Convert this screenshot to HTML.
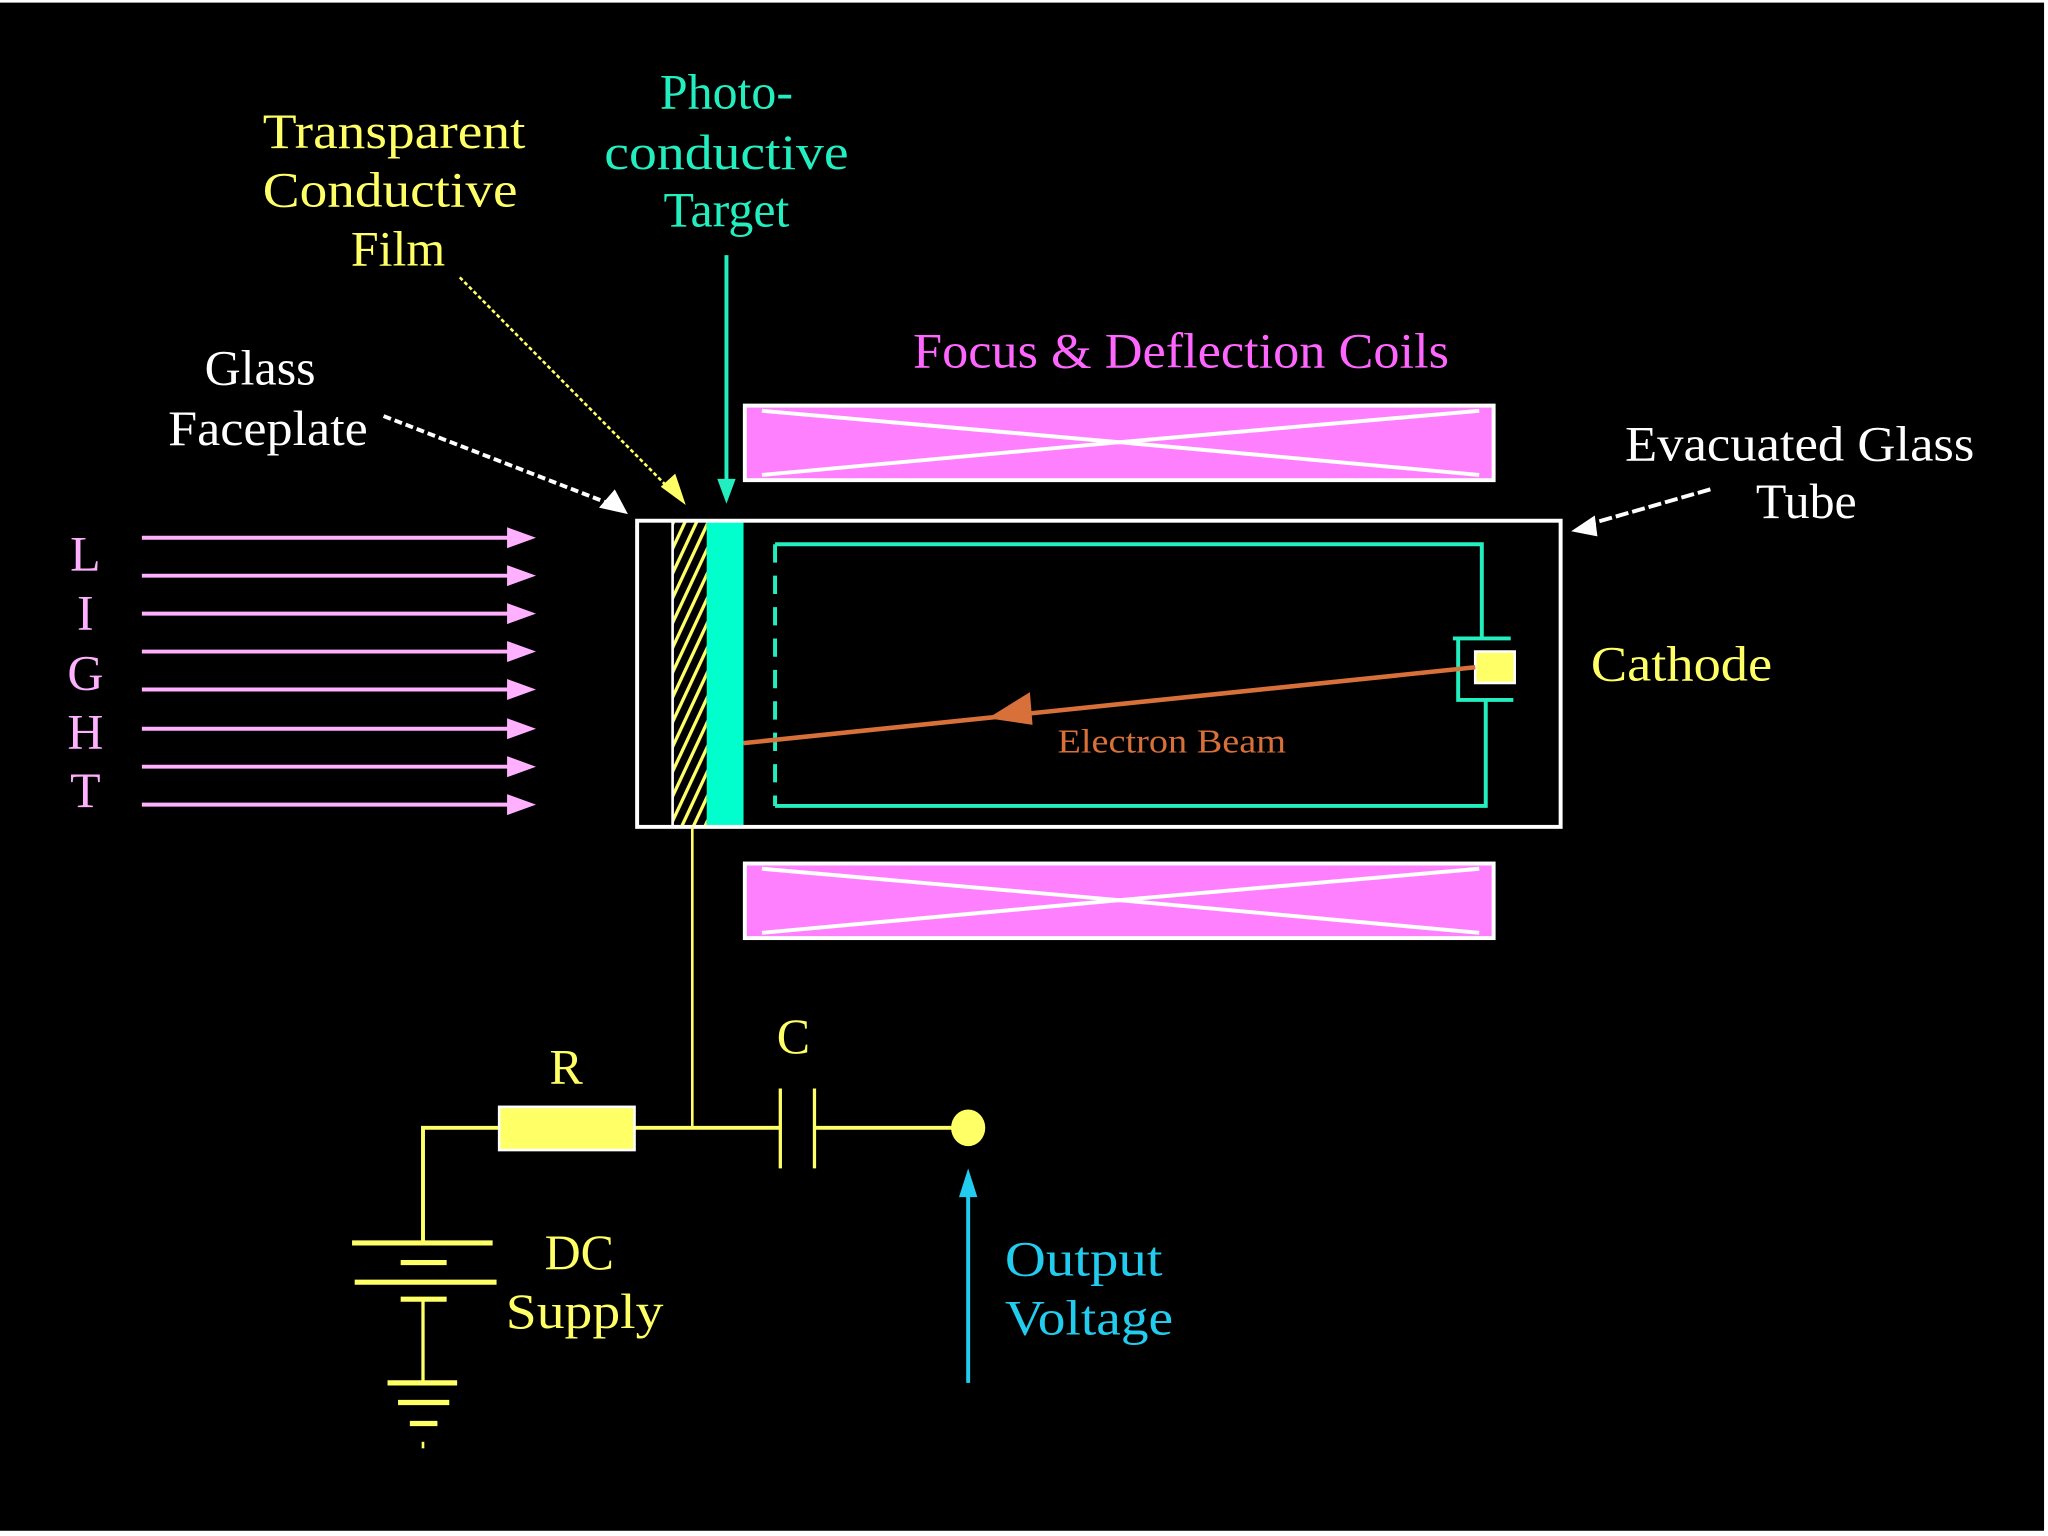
<!DOCTYPE html>
<html><head><meta charset="utf-8"><style>
html,body{margin:0;padding:0;background:#000;}
svg{display:block;}
text{font-family:"Liberation Serif",serif;}
</style></head><body>
<svg width="2048" height="1536" viewBox="0 0 1559 1174" preserveAspectRatio="none" xmlns="http://www.w3.org/2000/svg">
<defs>
<pattern id="hatch" width="8" height="8" patternUnits="userSpaceOnUse" patternTransform="rotate(25)">
<rect width="8" height="8" fill="#000"/>
<rect width="2.5" height="8" fill="#ffff66"/>
</pattern>
</defs>
<rect x="0" y="0" width="1559" height="1174" fill="#fff"/>
<rect x="0" y="2" width="1556" height="1168" fill="#000"/>

<!-- Labels -->
<g font-size="38" text-anchor="middle">
<text x="300" y="113" fill="#ffff66" textLength="200" lengthAdjust="spacingAndGlyphs">Transparent</text>
<text x="297" y="158" fill="#ffff66" textLength="194" lengthAdjust="spacingAndGlyphs">Conductive</text>
<text x="303" y="203" fill="#ffff66">Film</text>
<text x="553" y="83" fill="#22eec0">Photo-</text>
<text x="553" y="129" fill="#22eec0" textLength="186" lengthAdjust="spacingAndGlyphs">conductive</text>
<text x="553" y="173" fill="#22eec0">Target</text>
<text x="198" y="294" fill="#fff">Glass</text>
<text x="204" y="340" fill="#fff" textLength="152" lengthAdjust="spacingAndGlyphs">Faceplate</text>
<text x="899" y="281" fill="#ff66ff" textLength="408" lengthAdjust="spacingAndGlyphs">Focus &amp; Deflection Coils</text>
<text x="1370" y="352" fill="#fff" textLength="266" lengthAdjust="spacingAndGlyphs">Evacuated Glass</text>
<text x="1375" y="396" fill="#fff">Tube</text>
<text x="1280" y="520" fill="#ffff66" textLength="138" lengthAdjust="spacingAndGlyphs">Cathode</text>
<text x="431" y="828" fill="#ffff66">R</text>
<text x="604" y="805" fill="#ffff66">C</text>
<text x="441" y="970" fill="#ffff66">DC</text>
<text x="445" y="1015" fill="#ffff66" textLength="120" lengthAdjust="spacingAndGlyphs">Supply</text>
<text x="825" y="975" fill="#22ccee" textLength="120" lengthAdjust="spacingAndGlyphs">Output</text>
<text x="829" y="1020" fill="#22ccee" textLength="128" lengthAdjust="spacingAndGlyphs">Voltage</text>
<g fill="#ffb0ff">
<text x="65" y="436">L</text>
<text x="65" y="481">I</text>
<text x="65" y="527">G</text>
<text x="65" y="572">H</text>
<text x="65" y="617">T</text>
</g>
</g>
<text x="892" y="575" font-size="26" fill="#d8703a" text-anchor="middle" textLength="174" lengthAdjust="spacingAndGlyphs">Electron Beam</text>

<!-- Light arrows -->
<g stroke="#ffb0ff" stroke-width="3" fill="#ffb0ff">
<line x1="108" y1="411" x2="395" y2="411"/><polygon points="386,403 408,411 386,419" stroke="none"/>
<line x1="108" y1="440" x2="395" y2="440"/><polygon points="386,432 408,440 386,448" stroke="none"/>
<line x1="108" y1="469" x2="395" y2="469"/><polygon points="386,461 408,469 386,477" stroke="none"/>
<line x1="108" y1="498" x2="395" y2="498"/><polygon points="386,490 408,498 386,506" stroke="none"/>
<line x1="108" y1="527" x2="395" y2="527"/><polygon points="386,519 408,527 386,535" stroke="none"/>
<line x1="108" y1="557" x2="395" y2="557"/><polygon points="386,549 408,557 386,565" stroke="none"/>
<line x1="108" y1="586" x2="395" y2="586"/><polygon points="386,578 408,586 386,594" stroke="none"/>
<line x1="108" y1="615" x2="395" y2="615"/><polygon points="386,607 408,615 386,623" stroke="none"/>
</g>

<!-- Pointer lines -->
<line x1="350" y1="212" x2="512" y2="376" stroke="#ffff66" stroke-width="2" stroke-dasharray="3,2"/>
<polygon points="503,372 522,386 514,362" fill="#ffff66"/>
<line x1="292" y1="318" x2="464" y2="385" stroke="#fff" stroke-width="3" stroke-dasharray="6,3"/>
<polygon points="456,388 478,393 468,374" fill="#fff"/>
<line x1="553" y1="195" x2="553" y2="370" stroke="#22eec0" stroke-width="3"/>
<polygon points="546,366 553,385 560,366" fill="#22eec0"/>
<line x1="1302" y1="374" x2="1212" y2="400" stroke="#fff" stroke-width="3" stroke-dasharray="10,3"/>
<polygon points="1196,406 1214,394 1216,410" fill="#fff"/>

<!-- Coils -->
<g>
<rect x="567" y="310" width="570" height="57" fill="#ff80ff" stroke="#fff" stroke-width="3"/>
<polyline points="580,314 852,338 1126,314" fill="none" stroke="#fff" stroke-width="3"/>
<polyline points="580,363 852,338 1126,363" fill="none" stroke="#fff" stroke-width="3"/>
<rect x="567" y="660" width="570" height="57" fill="#ff80ff" stroke="#fff" stroke-width="3"/>
<polyline points="580,664 852,688 1126,664" fill="none" stroke="#fff" stroke-width="3"/>
<polyline points="580,713 852,688 1126,713" fill="none" stroke="#fff" stroke-width="3"/>
</g>

<!-- Tube -->
<rect x="512" y="398" width="26" height="234" fill="url(#hatch)"/>
<rect x="538" y="398" width="28" height="234" fill="#00ffcc"/>
<rect x="485" y="398" width="703" height="234" fill="none" stroke="#fff" stroke-width="3"/>
<line x1="512" y1="398" x2="512" y2="632" stroke="#fff" stroke-width="2"/>
<g stroke="#22eec0" stroke-width="3" fill="none">
<polyline points="590,416 1128,416 1128,488"/>
<polyline points="1106,488 1150,488"/>
<polyline points="1110,488 1110,535 1152,535"/>
<polyline points="1131,535 1131,616 590,616"/>
<line x1="590" y1="416" x2="590" y2="616" stroke-dasharray="14,10"/>
</g>
<rect x="1123" y="498" width="30" height="24" fill="#ffff66" stroke="#fff" stroke-width="2"/>
<line x1="566" y1="568" x2="1123" y2="510" stroke="#d8703a" stroke-width="3.5"/>
<polygon points="752,549 784,529 786,554" fill="#d8703a"/>

<!-- Circuit -->
<g stroke="#ffff66" fill="none">
<line x1="527" y1="632" x2="527" y2="862" stroke-width="2"/>
<polyline points="322,950 322,862 380,862" stroke-width="3"/>
<line x1="483" y1="862" x2="594" y2="862" stroke-width="3"/>
<line x1="620" y1="862" x2="735" y2="862" stroke-width="3"/>
<line x1="594" y1="832" x2="594" y2="893" stroke-width="2.5"/>
<line x1="620" y1="832" x2="620" y2="893" stroke-width="2.5"/>
<line x1="268" y1="950" x2="375" y2="950" stroke-width="4"/>
<line x1="305" y1="965" x2="340" y2="965" stroke-width="4"/>
<line x1="270" y1="980" x2="378" y2="980" stroke-width="4"/>
<line x1="305" y1="993" x2="340" y2="993" stroke-width="4"/>
<line x1="322" y1="993" x2="322" y2="1057" stroke-width="2.5"/>
<line x1="295" y1="1057" x2="348" y2="1057" stroke-width="4"/>
<line x1="303" y1="1072" x2="342" y2="1072" stroke-width="4"/>
<line x1="312" y1="1088" x2="333" y2="1088" stroke-width="4"/>
<line x1="322" y1="1102" x2="322" y2="1107" stroke-width="2"/>
</g>
<rect x="380" y="846" width="103" height="33" fill="#ffff66" stroke="#fff" stroke-width="2"/>
<ellipse cx="737" cy="862" rx="13" ry="14" fill="#ffff66"/>
<line x1="737" y1="1057" x2="737" y2="905" stroke="#22ccee" stroke-width="3"/>
<polygon points="730,915 737,893 744,915" fill="#22ccee"/>
</svg>
</body></html>
